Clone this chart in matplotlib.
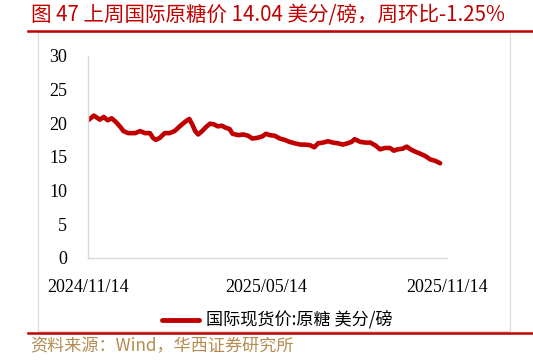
import matplotlib
matplotlib.use("Agg")
import matplotlib.pyplot as plt
import matplotlib.dates as mdates
from matplotlib.lines import Line2D
from matplotlib.patches import Rectangle
import pandas as pd

dates = ["2024-11-14", "2024-11-20", "2024-11-26", "2024-11-30", "2024-12-04", "2024-12-08",
         "2024-12-12", "2024-12-17", "2024-12-20", "2024-12-25", "2025-01-01", "2025-01-06",
         "2025-01-11", "2025-01-16", "2025-01-19", "2025-01-22", "2025-01-26", "2025-01-31",
         "2025-02-05", "2025-02-10", "2025-02-16", "2025-02-21", "2025-02-25", "2025-02-28",
         "2025-03-03", "2025-03-06", "2025-03-10", "2025-03-14", "2025-03-18", "2025-03-22",
         "2025-03-26", "2025-03-30", "2025-04-03", "2025-04-07", "2025-04-10", "2025-04-16",
         "2025-04-21", "2025-04-26", "2025-04-30", "2025-05-05", "2025-05-10", "2025-05-14",
         "2025-05-18", "2025-05-23", "2025-05-28", "2025-06-02", "2025-06-07", "2025-06-12",
         "2025-06-18", "2025-06-23", "2025-06-28", "2025-07-02", "2025-07-06", "2025-07-11",
         "2025-07-16", "2025-07-21", "2025-07-26", "2025-07-31", "2025-08-05", "2025-08-09",
         "2025-08-12", "2025-08-18", "2025-08-23", "2025-08-28", "2025-09-02", "2025-09-07",
         "2025-09-12", "2025-09-17", "2025-09-21", "2025-09-25", "2025-09-30", "2025-10-04",
         "2025-10-08", "2025-10-12", "2025-10-17", "2025-10-23", "2025-10-28", "2025-11-02",
         "2025-11-07"]
sugar_price = [20.4, 21.1, 20.5, 20.9, 20.4, 20.7,
               20.2, 19.4, 18.8, 18.5, 18.5, 18.8,
               18.5, 18.5, 17.8, 17.5, 17.8, 18.5,
               18.5, 18.8, 19.6, 20.2, 20.6, 19.8,
               18.8, 18.3, 18.8, 19.4, 19.9, 19.8,
               19.5, 19.6, 19.3, 19.1, 18.4, 18.2,
               18.3, 18.1, 17.7, 17.8, 18.0, 18.4,
               18.2, 18.1, 17.7, 17.5, 17.2, 17.0,
               16.8, 16.8, 16.7, 16.4, 17.0, 17.1,
               17.3, 17.1, 17.0, 16.8, 17.0, 17.2,
               17.6, 17.2, 17.1, 17.1, 16.7, 16.1,
               16.3, 16.3, 15.9, 16.1, 16.2, 16.5,
               16.1, 15.8, 15.5, 15.1, 14.6, 14.4,
               14.04]
x_ticks = ["2024-11-14", "2025-05-14", "2025-11-14"]
y_ticks = [0, 5, 10, 15, 20, 25, 30]
title = "图 47 上周国际原糖价 14.04 美分/磅，周环比-1.25%"
series_name = "国际现货价:原糖 美分/磅"
source = "资料来源：Wind，华西证券研究所"

W, H = 533, 360
fig = plt.figure(figsize=(W / 100, H / 100), dpi=100)
fig.patch.set_facecolor("white")

RED = "#C00000"
CJK = ["Noto Sans CJK SC", "DejaVu Sans"]
SERIF = ["Liberation Serif", "DejaVu Serif"]

def fx(px):
    return px / W

def fy(py):
    return 1 - py / H

# grey frame
fig.add_artist(Rectangle((fx(38), fy(331)), fx(510) - fx(38), fy(32) - fy(331),
                         transform=fig.transFigure, fill=False, edgecolor="#D9D9D9", lw=0.8))
# red rules
fig.add_artist(Line2D([fx(28), fx(533)], [fy(30.5), fy(30.5)], transform=fig.transFigure,
                      color=RED, lw=1.8))
fig.add_artist(Line2D([fx(28), fx(533)], [fy(333), fy(333)], transform=fig.transFigure,
                      color=RED, lw=1.8))

fig.text(fx(31), fy(15), title, family=CJK, fontsize=14.8, fontweight="light",
         color=RED, va="center", ha="left")
fig.text(fx(30), fy(346), source, family=CJK, fontsize=12.3, fontweight="light",
         color="#B48C50", va="center", ha="left")

ax = fig.add_axes([fx(88), fy(258), fx(447) - fx(88), fy(55.5) - fy(258)])
d = pd.to_datetime(dates)
ax.plot(d, sugar_price, color=RED, lw=3.3, solid_joinstyle="round", solid_capstyle="round")
ax.set_xlim(pd.Timestamp(x_ticks[0]), pd.Timestamp(x_ticks[-1]))
ax.set_ylim(0, 30)
ax.set_yticks(y_ticks)
ax.set_xticks(pd.to_datetime(x_ticks))
ax.xaxis.set_major_formatter(mdates.DateFormatter("%Y/%m/%d"))
for s in ["top", "right"]:
    ax.spines[s].set_visible(False)
for s in ["left", "bottom"]:
    ax.spines[s].set_color("#D9D9D9")
    ax.spines[s].set_linewidth(1.0)
ax.tick_params(length=0, labelsize=13)
ax.tick_params(axis="y", pad=15)
ax.tick_params(axis="x", pad=15)
for lab in ax.get_xticklabels() + ax.get_yticklabels():
    lab.set_family(SERIF)

# legend
fig.add_artist(Line2D([fx(162), fx(199)], [fy(319.5), fy(319.5)], transform=fig.transFigure,
                      color=RED, lw=3.5, solid_capstyle="round"))
fig.text(fx(206), fy(319.5), series_name, family=CJK, fontsize=12.3, fontweight="light",
         color="black", va="center", ha="left")

fig.savefig("out.png", dpi=100)
